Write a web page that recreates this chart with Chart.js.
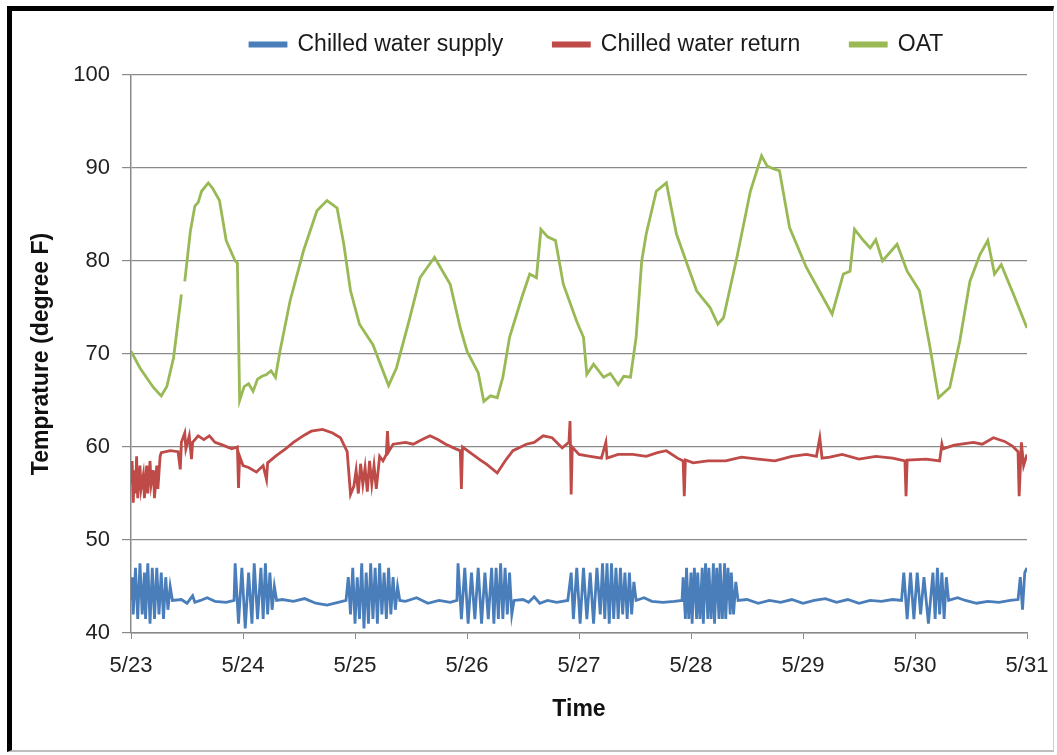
<!DOCTYPE html>
<html>
<head>
<meta charset="utf-8">
<script src="https://cdn.jsdelivr.net/npm/chart.js@4.4.1/dist/chart.umd.min.js"></script>
<style>
  html, body { margin: 0; padding: 0; background: #fff; }
  #frame {
    position: absolute; left: 7px; top: 6px; width: 1047px; height: 746px;
    border-top: 5px solid #000; border-left: 5px solid #000;
    border-right: 1px solid #d0d0d0; border-bottom: 2px solid #bdbdbd;
    box-sizing: border-box;
  }
  #wrap { position: absolute; left: 0; top: 0; width: 1057px; height: 755px; }
</style>
</head>
<body>
<div id="frame"></div>
<div id="wrap"><canvas id="chillerChart"></canvas></div>
<script>
// tick labels for the day axis (0 = 5/23 ... 8 = 5/31)
var dayLabels = ['5/23', '5/24', '5/25', '5/26', '5/27', '5/28', '5/29', '5/30', '5/31'];

// Chilled water supply (deg F), time in days from 5/23
var supplyDays = [0.00, 0.01, 0.02, 0.04, 0.06, 0.08, 0.10, 0.12, 0.13, 0.15, 0.17, 0.19, 0.21, 0.23, 0.25, 0.27, 0.29, 0.31, 0.33, 0.35, 0.37,
  0.45, 0.50, 0.55, 0.57, 0.62, 0.68, 0.75, 0.85, 0.92,
  0.93, 0.96, 0.99, 1.02, 1.05, 1.08, 1.10, 1.13, 1.16, 1.18, 1.20, 1.22, 1.24, 1.26, 1.28, 1.30,
  1.35, 1.45, 1.55, 1.65, 1.75, 1.85, 1.92,
  1.94, 1.96, 1.98, 2.00, 2.02, 2.04, 2.06, 2.08, 2.10, 2.12, 2.14, 2.16, 2.18, 2.20, 2.22, 2.24, 2.26, 2.28, 2.30, 2.32, 2.34, 2.36, 2.38, 2.40,
  2.45, 2.55, 2.65, 2.75, 2.85, 2.91,
  2.92, 2.95, 2.98, 3.01, 3.04, 3.07, 3.10, 3.13, 3.16, 3.19, 3.22, 3.24, 3.26, 3.28, 3.30, 3.32, 3.34, 3.36, 3.38, 3.40, 3.42,
  3.50, 3.55, 3.60, 3.65, 3.72, 3.80, 3.90,
  3.93, 3.95, 3.98, 4.01, 4.04, 4.07, 4.10, 4.13, 4.16, 4.19, 4.21, 4.23, 4.25, 4.27, 4.29, 4.31, 4.33, 4.35, 4.37, 4.39, 4.41, 4.43, 4.45, 4.47, 4.49, 4.51,
  4.58, 4.65, 4.75, 4.85, 4.92,
  4.93, 4.95, 4.96, 4.98, 5.00, 5.01, 5.03, 5.05, 5.06, 5.08, 5.10, 5.11, 5.13, 5.15, 5.16, 5.18, 5.20, 5.21, 5.23, 5.25, 5.26, 5.28, 5.30, 5.31, 5.33, 5.35, 5.36, 5.38, 5.40, 5.42,
  5.50, 5.60, 5.70, 5.80, 5.90, 6.00, 6.10, 6.20, 6.30, 6.40, 6.50, 6.60, 6.70, 6.80, 6.88,
  6.90, 6.93, 6.96, 6.99, 7.02, 7.05, 7.08, 7.12, 7.16, 7.18, 7.20, 7.22, 7.24, 7.26, 7.28, 7.30,
  7.38, 7.45, 7.55, 7.65, 7.75, 7.85, 7.92, 7.94, 7.96, 7.98, 8.00];
var supplyTemps = [43.5, 46.0, 42.0, 47.0, 41.5, 47.5, 42.0, 46.5, 41.5, 47.5, 41.0, 47.0, 41.5, 47.0, 42.0, 46.5, 41.5, 46.0, 42.5, 45.0, 43.5,
  43.6, 43.2, 44.0, 43.3, 43.5, 43.8, 43.4, 43.3, 43.5,
  47.5, 41.0, 47.0, 40.5, 46.5, 41.0, 47.5, 41.5, 47.0, 41.5, 47.5, 42.0, 46.5, 42.5, 45.0, 43.5,
  43.6, 43.4, 43.7, 43.2, 43.0, 43.3, 43.5,
  46.0, 42.0, 47.0, 41.0, 46.0, 41.5, 47.5, 40.5, 46.5, 41.0, 47.5, 41.5, 47.0, 41.0, 47.5, 42.0, 46.5, 41.5, 47.0, 42.0, 46.0, 42.5, 45.0, 43.5,
  43.4, 43.8, 43.2, 43.5, 43.3, 43.5,
  47.5, 41.5, 47.0, 41.0, 46.5, 41.5, 47.0, 41.0, 46.5, 41.5, 47.0, 41.0, 47.0, 41.5, 47.5, 41.5, 47.0, 42.0, 46.5, 42.0, 43.5,
  43.6, 43.3, 43.9, 43.2, 43.5, 43.3, 43.5,
  46.5, 41.5, 47.0, 41.0, 47.0, 41.5, 46.5, 41.0, 47.0, 42.0, 47.5, 41.5, 47.5, 41.0, 47.5, 41.5, 47.0, 41.5, 47.0, 42.0, 46.5, 41.5, 46.5, 42.0, 45.5, 43.5,
  43.8, 43.4, 43.3, 43.4, 43.5,
  46.0, 41.5, 47.0, 41.5, 46.5, 41.0, 47.0, 41.5, 46.5, 41.5, 47.0, 41.0, 47.5, 41.5, 47.0, 41.5, 47.5, 41.0, 47.0, 41.5, 47.5, 41.5, 47.5, 41.5, 47.0, 42.0, 46.5, 42.0, 45.5, 43.5,
  43.6, 43.2, 43.5, 43.3, 43.6, 43.2, 43.5, 43.7, 43.3, 43.6, 43.2, 43.5, 43.4, 43.6, 43.5,
  46.5, 41.5, 46.5, 41.5, 46.5, 42.0, 46.0, 41.0, 46.5, 41.5, 47.0, 42.0, 46.5, 41.5, 46.0, 43.5,
  43.8, 43.5, 43.2, 43.4, 43.3, 43.5, 43.6, 46.0, 42.5, 46.5, 47.0];

// Chilled water return (deg F)
var returnDays = [0.00, 0.01, 0.02, 0.03, 0.04, 0.05, 0.06, 0.08, 0.09, 0.11, 0.12, 0.14, 0.15, 0.17, 0.18, 0.20, 0.21, 0.23, 0.24, 0.26,
  0.27, 0.35, 0.42, 0.44, 0.45, 0.48, 0.49, 0.52, 0.54, 0.55, 0.60, 0.65, 0.70, 0.75, 0.82, 0.90, 0.95, 0.96, 0.97,
  1.00, 1.05, 1.12, 1.18, 1.21, 1.22, 1.30, 1.38, 1.45, 1.55, 1.61, 1.71, 1.80, 1.87, 1.93,
  1.96, 1.99, 2.01, 2.03, 2.05, 2.07, 2.09, 2.11, 2.13, 2.15, 2.17, 2.19, 2.22, 2.25, 2.28, 2.29, 2.30, 2.34,
  2.45, 2.52, 2.60, 2.67, 2.74, 2.81, 2.90, 2.94, 2.95, 2.96,
  3.05, 3.12, 3.18, 3.27, 3.34, 3.41, 3.53, 3.60, 3.68, 3.76, 3.85, 3.91, 3.92, 3.93, 3.94,
  4.00, 4.10, 4.20, 4.24, 4.25, 4.35, 4.48, 4.60, 4.70, 4.78, 4.88, 4.93, 4.94, 4.95,
  5.02, 5.15, 5.31, 5.45, 5.60, 5.75, 5.90, 6.03, 6.12, 6.15, 6.17, 6.24, 6.35, 6.50, 6.65, 6.80, 6.91, 6.92, 6.93,
  7.10, 7.22, 7.24, 7.25, 7.35, 7.52, 7.60, 7.70, 7.80, 7.87, 7.92, 7.93, 7.95, 7.97, 8.00];
var returnTemps = [56.0, 58.5, 54.0, 57.5, 55.0, 59.0, 54.5, 58.0, 55.5, 57.0, 54.5, 58.0, 55.0, 58.5, 56.0, 57.5, 54.5, 58.0, 55.5, 59.0,
  59.4, 59.6, 59.5, 57.6, 60.5, 61.5, 59.8, 61.2, 58.7, 60.5, 61.2, 60.8, 61.2, 60.5, 60.2, 59.8, 60.0, 55.6, 59.0,
  58.0, 57.8, 57.3, 58.0, 56.5, 58.3, 59.1, 59.8, 60.5, 61.3, 61.7, 61.9, 61.5, 61.0, 59.5,
  54.9, 55.8, 57.5, 55.0, 58.2, 56.0, 57.8, 55.2, 58.5, 56.0, 58.0, 55.5, 59.0, 58.5, 59.2, 61.7, 59.5, 60.3,
  60.5, 60.3, 60.8, 61.2, 60.8, 60.3, 59.8, 59.6, 55.5, 60.0,
  59.2, 58.6, 58.1, 57.2, 58.5, 59.6, 60.3, 60.5, 61.2, 61.0, 59.9, 60.5, 62.8, 54.9, 60.0,
  59.2, 59.0, 58.8, 60.5, 58.8, 59.2, 59.2, 59.0, 59.4, 59.6, 58.8, 58.5, 54.7, 58.6,
  58.3, 58.5, 58.5, 58.9, 58.7, 58.5, 59.0, 59.2, 59.0, 61.0, 58.8, 58.9, 59.2, 58.7, 59.0, 58.8, 58.5, 54.7, 58.6,
  58.7, 58.5, 60.3, 59.8, 60.2, 60.5, 60.3, 61.0, 60.6, 60.1, 59.5, 54.7, 60.5, 58.0, 59.2];

// Outside air temperature (deg F); null marks the short gap in the logged data
var oatDays = [0.00, 0.08, 0.20, 0.27, 0.32, 0.38, 0.45, 0.465, 0.48, 0.53, 0.57, 0.60, 0.63, 0.69, 0.73, 0.79, 0.85, 0.93, 0.95, 0.97,
  1.01, 1.05, 1.09, 1.13, 1.17, 1.21, 1.25, 1.29, 1.33, 1.42, 1.54, 1.66, 1.75, 1.84, 1.90, 1.96,
  2.04, 2.16, 2.30, 2.37, 2.49, 2.58, 2.71, 2.85, 2.94, 3.00, 3.06, 3.10, 3.15, 3.21, 3.27, 3.32, 3.38, 3.49, 3.56, 3.62, 3.66, 3.72, 3.79, 3.86, 3.98,
  4.04, 4.07, 4.13, 4.22, 4.28, 4.35, 4.40, 4.46, 4.51, 4.56, 4.60, 4.69, 4.78, 4.87, 5.05, 5.17, 5.24, 5.29, 5.41, 5.53, 5.63, 5.68, 5.74, 5.79, 5.88,
  6.03, 6.26, 6.36, 6.42, 6.46, 6.54, 6.60, 6.65, 6.71, 6.84, 6.93, 7.04, 7.13, 7.21, 7.31, 7.40, 7.49, 7.58, 7.65, 7.71, 7.77, 7.88, 8.00];
var oatTemps = [70.3, 68.5, 66.4, 65.5, 66.5, 69.6, 76.4, null, 77.8, 83.2, 85.9, 86.3, 87.5, 88.4, 87.8, 86.5, 82.2, 80.0, 79.8, 65.0,
  66.5, 66.8, 66.0, 67.3, 67.6, 67.8, 68.2, 67.5, 70.3, 75.7, 81.1, 85.4, 86.5, 85.7, 81.8, 76.8,
  73.2, 71.0, 66.6, 68.5, 73.9, 78.2, 80.4, 77.5, 72.8, 70.3, 68.9, 68.0, 64.9, 65.5, 65.3, 67.5, 71.8, 76.1, 78.6, 78.2, 83.4, 82.6, 82.2, 77.5, 73.5,
  71.8, 67.8, 68.9, 67.5, 67.9, 66.7, 67.6, 67.5, 71.8, 80.0, 82.9, 87.5, 88.4, 82.9, 76.8, 75.0, 73.2, 73.9, 80.4, 87.5, 91.3, 90.2, 89.9, 89.7, 83.6,
  79.3, 74.3, 78.6, 78.9, 83.4, 82.2, 81.4, 82.3, 80.0, 81.8, 78.9, 76.8, 71.0, 65.3, 66.4, 71.4, 77.8, 80.7, 82.2, 78.6, 79.6, 76.4, 72.8];

function toPoints(days, temps) {
  return days.map(function (d, i) { return { x: d, y: temps[i] }; });
}

// moves the legend row to where the original sits and keeps its box short
var legendPlace = {
  id: 'legendPlace',
  beforeLayout: function (chart) {
    var legend = chart.legend;
    if (legend && !legend._patched) {
      var fit = legend.fit;
      legend.fit = function () { fit.call(this); this.height = 61; };
      legend._patched = true;
    }
  },
  afterLayout: function (chart) {
    var legend = chart.legend;
    legend.left = 200;
    legend.top = -17;
  }
};

var ctx = document.getElementById('chillerChart').getContext('2d');

var chillerChart = new Chart(ctx, {
  type: 'line',
  data: {
    datasets: [
      {
        label: 'Chilled water supply',
        data: toPoints(supplyDays, supplyTemps),
        borderColor: '#4A7EBB',
        backgroundColor: '#4A7EBB',
        borderWidth: 2.8,
        pointRadius: 0,
        tension: 0
      }, {
        label: 'Chilled water return',
        data: toPoints(returnDays, returnTemps),
        borderColor: '#BE4B48',
        backgroundColor: '#BE4B48',
        borderWidth: 2.8,
        pointRadius: 0,
        tension: 0
      }, {
        label: 'OAT',
        data: toPoints(oatDays, oatTemps),
        borderColor: '#98B954',
        backgroundColor: '#98B954',
        borderWidth: 2.8,
        pointRadius: 0,
        tension: 0,
        spanGaps: false
      }
    ]
  },
  options: {
    responsive: true,
    maintainAspectRatio: false,
    animation: false,
    layout: { padding: { left: 24, right: 30, top: 14, bottom: 28 } },
    plugins: {
      tooltip: { enabled: false },
      legend: {
        position: 'top',
        align: 'start',
        labels: {
          boxWidth: 36,
          boxHeight: 3,
          padding: 50,
          color: '#1a1a1a',
          font: { family: 'Arial, "Liberation Sans", sans-serif', size: 23 }
        }
      }
    },
    scales: {
      x: {
        type: 'linear',
        min: 0,
        max: 8,
        afterFit: function (scale) { scale.height = 94; scale.paddingRight = 4; },
        ticks: {
          stepSize: 1,
          autoSkip: false,
          maxRotation: 0,
          padding: 14,
          color: '#222',
          font: { family: 'Arial, "Liberation Sans", sans-serif', size: 22 },
          callback: function (v) { return dayLabels[v]; }
        },
        grid: { drawOnChartArea: false, drawTicks: true, tickLength: 6, color: '#8a8a8a' },
        border: { color: '#8a8a8a', width: 1.5 },
        title: {
          display: true,
          text: 'Time',
          color: '#111',
          font: { family: 'Arial, "Liberation Sans", sans-serif', size: 23, weight: 'bold' }
        }
      },
      y: {
        min: 40,
        max: 100,
        afterFit: function (scale) { scale.width = 107; },
        ticks: {
          stepSize: 10,
          padding: 12,
          color: '#222',
          font: { family: 'Arial, "Liberation Sans", sans-serif', size: 22 }
        },
        grid: { color: '#8a8a8a', lineWidth: 1.2, tickLength: 9 },
        border: { color: '#8a8a8a', width: 1.5 },
        title: {
          display: true,
          text: 'Temprature (degree F)',
          color: '#111',
          font: { family: 'Arial, "Liberation Sans", sans-serif', size: 23, weight: 'bold' }
        }
      }
    }
  },
  plugins: [legendPlace]
});
</script>
</body>
</html>
